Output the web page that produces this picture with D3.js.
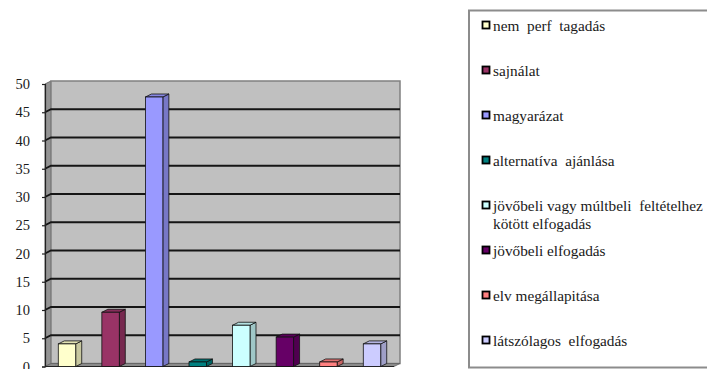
<!DOCTYPE html>
<html>
<head>
<meta charset="utf-8">
<script src="https://cdn.jsdelivr.net/npm/d3@7"></script>
<style>
  html, body { margin: 0; padding: 0; background: #fff; }
  svg { display: block; }
</style>
</head>
<body>
<svg id="chart" width="707" height="369"></svg>
<script>
// Response categories and their counts
const categories = [
  "nem  perf  tagadás",
  "sajnálat",
  "magyarázat",
  "alternatíva  ajánlása",
  "jövőbeli vagy múltbeli  feltételhez kötött elfogadás",
  "jövőbeli elfogadás",
  "elv megállapitása",
  "látszólagos  elfogadás"
];
const values = [4, 9.6, 47.7, 0.8, 7.3, 5.2, 0.8, 4];
const colors = ["#FFFFCC", "#993366", "#9999FF", "#008080", "#CCFFFF", "#660066", "#FF8080", "#CCCCFF"];
const yTicks = [0, 5, 10, 15, 20, 25, 30, 35, 40, 45, 50];
// Legend rows: each category may wrap onto two lines
const legendLines = [
  ["nem  perf  tagadás"],
  ["sajnálat"],
  ["magyarázat"],
  ["alternatíva  ajánlása"],
  ["jövőbeli vagy múltbeli  feltételhez", "kötött elfogadás"],
  ["jövőbeli elfogadás"],
  ["elv megállapitása"],
  ["látszólagos  elfogadás"]
];

const svg = d3.select("#chart");
const serif = '"Liberation Serif", "Times New Roman", serif';

// 3D depth offset of the back plane relative to the front plane
const dx = 6, dy = -3;

const y = d3.scaleLinear().domain([0, 50]).range([366.5, 84]);
const x = d3.scaleBand().domain(categories).range([45, 394]).paddingInner(0.6).paddingOuter(0.305);

const g = svg.append("g");

// Side wall (left)
g.append("polygon")
  .attr("points", [[45, y(50)], [45 + dx, y(50) + dy], [45 + dx, y(0) + dy], [45, y(0)]].join(" "))
  .attr("fill", "#949494").attr("stroke", "#6a6a6a").attr("stroke-width", 1);

// Back wall
g.append("rect")
  .attr("x", 45 + dx).attr("y", y(50) + dy)
  .attr("width", 394 - 45).attr("height", y(0) - y(50))
  .attr("fill", "#c0c0c0").attr("stroke", "#808080").attr("stroke-width", 1.5);

// Floor
g.append("polygon")
  .attr("points", [[45, y(0)], [45 + dx, y(0) + dy], [394 + dx, y(0) + dy], [394, y(0)]].join(" "))
  .attr("fill", "#8a8a8a").attr("stroke", "#606060").attr("stroke-width", 0.8);

// Gridlines across side wall and back wall
g.selectAll("polyline.grid")
  .data(yTicks.filter(v => v > 0 && v < 50))
  .join("polyline")
  .attr("class", "grid")
  .attr("points", v => [[45, y(v)], [45 + dx, y(v) + dy], [394 + dx, y(v) + dy]].join(" "))
  .attr("fill", "none").attr("stroke", "#151515").attr("stroke-width", 1.8);

// Y axis ticks and labels
const axis = d3.axisLeft(y).tickValues(yTicks).tickSize(3).tickPadding(12);
const ag = svg.append("g").attr("transform", "translate(45,0)").call(axis);
ag.select(".domain").attr("stroke", "#222").attr("stroke-width", 1.2);
ag.selectAll(".tick line").attr("stroke", "#222").attr("stroke-width", 1.2);
ag.selectAll(".tick text")
  .style("font-family", serif).style("font-size", "14.5px").attr("fill", "#1a1a1a");

// X axis baseline
svg.append("line").attr("x1", 45).attr("x2", 394).attr("y1", y(0)).attr("y2", y(0))
  .attr("stroke", "#222").attr("stroke-width", 1.2);

// 3D bars: front, side and top faces
const bars = svg.append("g").selectAll("g.bar")
  .data(categories.map((c, i) => ({ c, v: values[i], col: colors[i] })))
  .join("g").attr("class", "bar");

bars.append("polygon") // side face
  .attr("points", d => {
    const x1 = x(d.c) + x.bandwidth();
    return [[x1, y(d.v)], [x1 + dx, y(d.v) + dy], [x1 + dx, y(0) + dy], [x1, y(0)]].join(" ");
  })
  .attr("fill", d => d3.color(d.col).darker(0.7))
  .attr("stroke", "#111").attr("stroke-width", 0.8).attr("stroke-linejoin", "round");

bars.append("polygon") // top face
  .attr("points", d => {
    const x0 = x(d.c), x1 = x0 + x.bandwidth();
    return [[x0, y(d.v)], [x0 + dx, y(d.v) + dy], [x1 + dx, y(d.v) + dy], [x1, y(d.v)]].join(" ");
  })
  .attr("fill", d => d3.color(d.col).darker(0.35))
  .attr("stroke", "#111").attr("stroke-width", 0.8).attr("stroke-linejoin", "round");

bars.append("rect") // front face
  .attr("x", d => x(d.c)).attr("y", d => y(d.v))
  .attr("width", x.bandwidth()).attr("height", d => y(0) - y(d.v))
  .attr("fill", d => d.col)
  .attr("stroke", "#111").attr("stroke-width", 0.8);

// Legend
const lg = svg.append("g");
lg.append("rect")
  .attr("x", 469).attr("y", 10.5).attr("width", 260).attr("height", 357)
  .attr("fill", "#fff").attr("stroke", "#8c8c8c").attr("stroke-width", 2);

const rowY = d3.scaleLinear().domain([0, 7]).range([26, 341]);
const items = lg.selectAll("g.item").data(legendLines).join("g").attr("class", "item")
  .attr("transform", (d, i) => `translate(482,${rowY(i)})`);

items.append("rect")
  .attr("x", 0.5).attr("y", -4.5).attr("width", 7).attr("height", 7)
  .attr("fill", (d, i) => colors[i]).attr("stroke", "#000").attr("stroke-width", 1.8);

items.append("text")
  .style("font-family", serif).style("font-size", "15.3px").attr("fill", "#1a1a1a")
  .style("white-space", "pre")
  .selectAll("tspan").data(d => d).join("tspan")
  .attr("x", 11).attr("dy", (d, i) => i === 0 ? "0.35em" : "1.15em")
  .text(d => d);
</script>
</body>
</html>
